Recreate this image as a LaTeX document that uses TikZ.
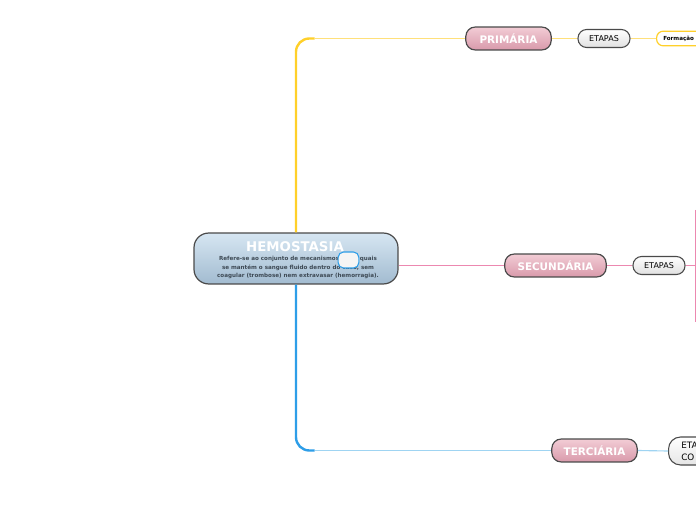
\documentclass[tikz,border=0pt]{standalone}
\usepackage{fontspec}
\setmainfont{DejaVu Sans}
\definecolor{ylw}{HTML}{FFD02A}
\definecolor{ylwl}{HTML}{FFE07A}
\definecolor{blu}{HTML}{2E9EE8}
\definecolor{blul}{HTML}{9FD4F2}
\definecolor{pnk}{HTML}{EC88B0}
\definecolor{bord}{HTML}{4A4A4A}
\definecolor{ctop}{HTML}{D6E6F2}
\definecolor{cbot}{HTML}{A2BBD0}
\definecolor{ptop}{HTML}{F2CCD5}
\definecolor{pbot}{HTML}{D99AAB}
\definecolor{desc}{HTML}{3E4A55}
\tikzset{
  central/.style={draw=bord, line width=0.9pt, rounded corners=11pt, top color=ctop, bottom color=cbot, minimum width=153pt, minimum height=38.2pt, inner sep=0pt},
  mainbox/.style={draw=bord, line width=0.9pt, rounded corners=7pt, top color=ptop, bottom color=pbot, minimum height=17.2pt, inner sep=0pt, text=white, font=\bfseries\fontsize{7.8pt}{9pt}\selectfont},
  etbox/.style={draw=bord, line width=0.8pt, rounded corners=6.5pt, top color=white, bottom color=black!12, minimum height=13.5pt, inner sep=0pt, font=\fontsize{6pt}{7pt}\selectfont},
  conn/.style={line width=0.85pt},
  trunk/.style={line width=1.8pt, rounded corners=10pt},
}
\begin{document}
\begin{tikzpicture}[x=0.75pt,y=-0.75pt]
\useasboundingbox (0,0) rectangle (696,520);
\clip (0,0) rectangle (696,520);
\fill[white] (0,0) rectangle (696,520);
% nodes
\node[central] (c) at (296,258.5) {};
\node[text=white, font=\bfseries\fontsize{10pt}{11pt}\selectfont] (ct) at (295,247) {HEMOSTASIA};
\node[text=desc, align=center, font=\bfseries\fontsize{4.2pt}{6.7pt}\selectfont, inner sep=0pt] (cd) at (298,267.5) {Refere-se ao conjunto de mecanismos pelos quais\\ se mantém o sangue fluido dentro do vaso, sem\\ coagular (trombose) nem extravasar (hemorragia).};
\node[draw=blu, fill=black!4, line width=0.8pt, rounded corners=4pt, minimum width=15.5pt, minimum height=12pt, inner sep=0pt] (ov) at (348.5,260) {};

\node[mainbox, minimum width=64pt] (p) at (508.5,38.5) {PRIMÁRIA};
\node[mainbox, minimum width=76pt] (s) at (555.5,265.5) {SECUNDÁRIA};
\node[mainbox, minimum width=64pt] (t) at (594.5,450.5) {TERCIÁRIA};

\node[etbox, minimum width=39pt] (pe) at (604,38.5) {ETAPAS};
\node[etbox, minimum width=39pt] (se) at (659,265.5) {ETAPAS};
\node[draw=ylw, fill=white, line width=0.9pt, rounded corners=5pt, minimum width=45pt, minimum height=11pt, inner sep=0pt, anchor=west] (pf) at (656,38.5) {};
\node[anchor=west, font=\bfseries\fontsize{4.2pt}{5pt}\selectfont, inner sep=0pt] (pft) at (663,38.5) {Formação};
\node[draw=bord, line width=0.8pt, rounded corners=9pt, top color=white, bottom color=black!10, minimum width=45pt, minimum height=21pt, inner sep=0pt, anchor=west] (te) at (668,451) {};
\node[anchor=west, align=left, font=\fontsize{6.6pt}{9pt}\selectfont, inner sep=0pt] (tet) at (681,451) {ETA\\CO};

% connectors
\coordinate (yk) at ([xshift=14]c.north |- p.west);
\coordinate (bk) at ([xshift=14]c.south |- t.west);
\draw[ylw, trunk] (c.north) -- (c.north |- p.west) -- (yk);
\draw[ylwl, conn] (yk) -- (p.west);
\draw[blu, trunk] (c.south) -- (c.south |- t.west) -- (bk);
\draw[blul, conn] (bk) -- (t.west);
\draw[pnk, conn] (c.east |- s.west) -- (s.west);
\draw[ylwl, conn] (p.east) -- (pe.west);
\draw[ylwl, conn] (pe.east) -- (pf.west);
\draw[pnk, conn] (s.east) -- (se.west);
\coordinate (sj) at (695.5,265.5);
\coordinate (stop) at (695.5,210);
\coordinate (sbot) at (695.5,322);
\draw[pnk, conn] (se.east) -- (sj);
\draw[pnk, conn] (stop) -- (sbot);
\draw[blul, conn] (t.east) -- (te.west);
\end{tikzpicture}
\end{document}
